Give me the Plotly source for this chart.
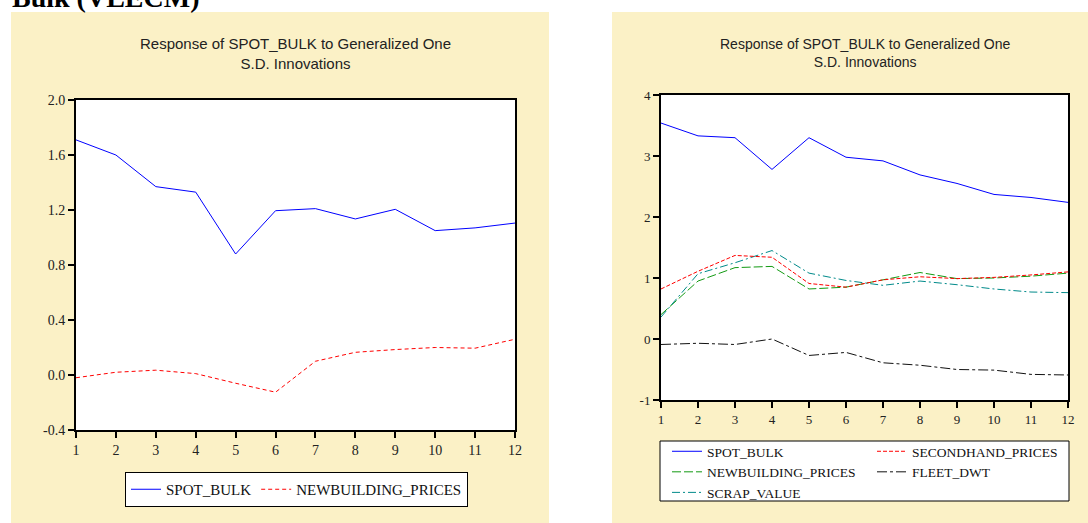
import plotly.graph_objects as go

W, H = 1088, 523

# ---------------- data ----------------
periods = list(range(1, 13))

left_spot_bulk = [1.71, 1.60, 1.37, 1.33, 0.88, 1.195, 1.21, 1.135, 1.205, 1.05, 1.07, 1.105]
left_newbuilding = [-0.02, 0.02, 0.035, 0.01, -0.06, -0.125, 0.10, 0.165, 0.185, 0.20, 0.195, 0.26]

right_spot_bulk = [3.54, 3.33, 3.30, 2.78, 3.30, 2.98, 2.92, 2.69, 2.55, 2.37, 2.32, 2.24]
right_secondhand = [0.82, 1.11, 1.37, 1.34, 0.91, 0.85, 0.97, 1.02, 0.99, 1.01, 1.05, 1.10]
right_newbuilding = [0.40, 0.95, 1.17, 1.19, 0.82, 0.85, 0.97, 1.09, 0.99, 1.00, 1.03, 1.08]
right_scrap = [0.36, 1.07, 1.25, 1.45, 1.08, 0.96, 0.88, 0.95, 0.89, 0.82, 0.77, 0.76]
right_fleet = [-0.09, -0.07, -0.09, 0.00, -0.27, -0.22, -0.39, -0.43, -0.50, -0.51, -0.58, -0.59]

left_ytick_vals = [-0.4, 0.0, 0.4, 0.8, 1.2, 1.6, 2.0]
left_ytick_text = ["-0.4", "0.0", "0.4", "0.8", "1.2", "1.6", "2.0"]
right_ytick_vals = [-1, 0, 1, 2, 3, 4]
right_ytick_text = ["-1", "0", "1", "2", "3", "4"]

heading = "Bulk (VLECM)"
chart_title = "Response of SPOT_BULK to Generalized One<br>S.D. Innovations"

# ---------------- layout helpers ----------------
def px(x):
    return x / W

def py(y):
    return 1 - y / H

L_dom_x = [px(76), px(515)]
L_dom_y = [py(430), py(100)]
R_dom_x = [px(661), px(1068)]
R_dom_y = [py(400), py(95)]

BLUE = "#0000FF"
RED = "#FF0000"
GREEN = "#129A12"
TEAL = "#008A8A"
BLACK = "#111111"
YELLOW = "#FBF1C6"
SERIF = "Liberation Serif, Times New Roman, serif"
SANS = "Liberation Sans, Arial, sans-serif"

fig = go.Figure()

# left panel
fig.add_trace(go.Scatter(x=periods, y=left_spot_bulk, mode="lines", name="SPOT_BULK",
                         line=dict(color=BLUE, width=1), xaxis="x", yaxis="y", legend="legend"))
fig.add_trace(go.Scatter(x=periods, y=left_newbuilding, mode="lines", name="NEWBUILDING_PRICES",
                         line=dict(color=RED, width=1, dash="4px,3px"), xaxis="x", yaxis="y", legend="legend"))

# right panel, column 1 of legend
fig.add_trace(go.Scatter(x=periods, y=right_spot_bulk, mode="lines", name="SPOT_BULK",
                         line=dict(color=BLUE, width=1), xaxis="x2", yaxis="y2", legend="legend2"))
fig.add_trace(go.Scatter(x=periods, y=right_newbuilding, mode="lines", name="NEWBUILDING_PRICES",
                         line=dict(color=GREEN, width=1, dash="9px,3px"), xaxis="x2", yaxis="y2", legend="legend2"))
fig.add_trace(go.Scatter(x=periods, y=right_scrap, mode="lines", name="SCRAP_VALUE",
                         line=dict(color=TEAL, width=1, dash="8px,3px,2px,3px"), xaxis="x2", yaxis="y2", legend="legend2"))
# column 2
fig.add_trace(go.Scatter(x=periods, y=right_secondhand, mode="lines", name="SECONDHAND_PRICES",
                         line=dict(color=RED, width=1, dash="4px,2px"), xaxis="x2", yaxis="y2", legend="legend3"))
fig.add_trace(go.Scatter(x=periods, y=right_fleet, mode="lines", name="FLEET_DWT",
                         line=dict(color=BLACK, width=1, dash="10px,3px,3px,3px"), xaxis="x2", yaxis="y2", legend="legend3"))

axis_common = dict(showgrid=False, zeroline=False, showline=True, linecolor="black", linewidth=2,
                   mirror=True, ticks="outside", ticklen=6, tickwidth=1.5, tickcolor="black",
                   automargin=False)

fig.update_layout(
    template="none",
    width=W, height=H,
    autosize=False,
    margin=dict(l=0, r=0, t=0, b=0, pad=0, autoexpand=False),
    paper_bgcolor="white",
    plot_bgcolor="white",
    showlegend=True,
    xaxis=dict(domain=L_dom_x, range=[1, 12], tickmode="array", tickvals=periods,
               tickfont=dict(family=SERIF, size=14, color="#222"), anchor="y", **axis_common),
    yaxis=dict(domain=L_dom_y, range=[-0.4, 2.0], tickmode="array", tickvals=left_ytick_vals,
               ticktext=left_ytick_text, tickfont=dict(family=SERIF, size=14, color="#222"),
               anchor="x", **axis_common),
    xaxis2=dict(domain=R_dom_x, range=[1, 12], tickmode="array", tickvals=periods,
                tickfont=dict(family=SERIF, size=13, color="#222"), anchor="y2", **axis_common),
    yaxis2=dict(domain=R_dom_y, range=[-1, 4], tickmode="array", tickvals=right_ytick_vals,
                ticktext=right_ytick_text, tickfont=dict(family=SERIF, size=13, color="#222"),
                anchor="x2", **axis_common),
    legend=dict(orientation="h", x=px(125), y=py(472), xanchor="left", yanchor="top",
                bgcolor="white", bordercolor="black", borderwidth=1,
                font=dict(family=SERIF, size=15, color="#111"), itemwidth=30),
    legend2=dict(orientation="v", x=px(667), y=py(436), xanchor="left", yanchor="top",
                 bgcolor="rgba(0,0,0,0)", borderwidth=0,
                 font=dict(family=SERIF, size=13.5, color="#111"), itemwidth=30),
    legend3=dict(orientation="v", x=px(872), y=py(436), xanchor="left", yanchor="top",
                 bgcolor="rgba(0,0,0,0)", borderwidth=0,
                 font=dict(family=SERIF, size=13.5, color="#111"), itemwidth=30),
)

shapes = [
    # yellow frames
    dict(type="rect", xref="paper", yref="paper", x0=px(11), x1=px(549), y0=py(523), y1=py(12),
         fillcolor=YELLOW, line=dict(width=0), layer="below"),
    dict(type="rect", xref="paper", yref="paper", x0=px(612), x1=px(1088), y0=py(523), y1=py(12),
         fillcolor=YELLOW, line=dict(width=0), layer="below"),
    # white plot areas
    dict(type="rect", xref="paper", yref="paper", x0=L_dom_x[0], x1=L_dom_x[1], y0=L_dom_y[0], y1=L_dom_y[1],
         fillcolor="white", line=dict(width=0), layer="below"),
    dict(type="rect", xref="paper", yref="paper", x0=R_dom_x[0], x1=R_dom_x[1], y0=R_dom_y[0], y1=R_dom_y[1],
         fillcolor="white", line=dict(width=0), layer="below"),
    # right legend box
    dict(type="rect", xref="paper", yref="paper", x0=px(660), x1=px(1069), y0=py(501), y1=py(441),
         fillcolor="white", line=dict(color="black", width=1), layer="above"),
]
fig.update_layout(shapes=shapes)

fig.add_annotation(text=chart_title, xref="paper", yref="paper", x=px(295.5), y=py(54),
                   xanchor="center", yanchor="middle", showarrow=False, align="center",
                   font=dict(family=SANS, size=15, color="#222"))
fig.add_annotation(text=chart_title, xref="paper", yref="paper", x=px(864.5), y=py(53),
                   xanchor="center", yanchor="middle", showarrow=False, align="center",
                   font=dict(family=SANS, size=14, color="#222"))
fig.add_annotation(text="<b>" + heading + "</b>", xref="paper", yref="paper", x=px(10), y=py(-3),
                   xanchor="left", yanchor="middle", showarrow=False,
                   font=dict(family=SERIF, size=28, color="black"))

fig.write_html("out.html",
               config={"displayModeBar": False},
               post_script="document.body.style.margin='0';document.body.style.padding='0';"
                           "document.body.style.overflow='hidden';")
